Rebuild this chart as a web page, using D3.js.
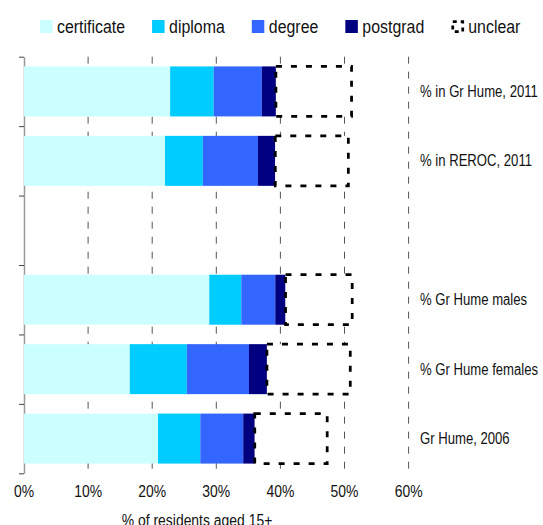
<!DOCTYPE html>
<html>
<head>
<meta charset="utf-8">
<script src="https://cdn.jsdelivr.net/npm/d3@7"></script>
<style>
  body { margin: 0; background: #fff; }
  text { font-family: "Liberation Sans", Arial, sans-serif; fill: #111; }
</style>
</head>
<body>
<div id="chart-area"></div>
<script>
// chart data (percent of residents aged 15+)
var categories = ["% in Gr Hume, 2011", "% in REROC, 2011", "", "% Gr Hume males", "% Gr Hume females", "Gr Hume, 2006"];
var certificate = [22.8, 22.0, 0, 28.9, 16.5, 20.9];
var diploma = [6.8, 5.9, 0, 5.0, 8.9, 6.6];
var degree = [7.5, 8.6, 0, 5.3, 9.7, 6.7];
var postgrad = [2.2, 2.7, 0, 1.6, 2.8, 1.8];
var unclear = [11.8, 11.4, 0, 10.4, 13.0, 11.3];
var seriesNames = ["certificate", "diploma", "degree", "postgrad", "unclear"];
var xTicks = [0, 10, 20, 30, 40, 50, 60];

var colors = {certificate: "#ccffff", diploma: "#00ccff", degree: "#3366ff", postgrad: "#000080", unclear: "#ffffff"};

var width = 543;
var height = 525;
// the source font is a narrow sans, squeeze the regular one to match
var squeeze = 0.82;

var svg = d3.select("#chart-area").append("svg")
.attr("width", width)
.attr("height", height)

function place(x, y, s) {
    return "translate(" + x + "," + y + ") scale(" + (s || squeeze) + ",1)"
}

var rows = categories.map((c, i) => ({
    cat: c,
    certificate: certificate[i],
    diploma: diploma[i],
    degree: degree[i],
    postgrad: postgrad[i],
    unclear: unclear[i]
}))

var x = d3.scaleLinear()
.domain([0, 60])
.range([24, 408.6])

var y = d3.scaleBand()
.domain(categories)
.range([56.7, 473.3])
.paddingInner(0.28)
.paddingOuter(0.14)

// gridlines
svg.append("g")
.selectAll("line")
.data(xTicks.filter(d => d > 0))
.enter().append("line")
.attr("x1", d => x(d))
.attr("x2", d => x(d))
.attr("y1", 56.7)
.attr("y2", 473.3)
.attr("stroke", "#555")
.attr("stroke-width", 1)
.attr("stroke-dasharray", "7,8")

// y axis with ticks at band edges
var yEdges = d3.scaleLinear().domain([0, categories.length]).range([56.7, 473.3])
var yAxisCall = d3.axisLeft(yEdges)
.tickValues(d3.range(categories.length + 1))
.tickFormat("")
.tickSize(5)
.tickSizeOuter(0)

var yAxis = svg.append("g")
.attr("class", "left axis")
.attr("transform", "translate(" + x(0) + ",0)")
.call(yAxisCall)
yAxis.select(".domain").attr("stroke", "#999").attr("stroke-width", 1.5)
yAxis.selectAll(".tick line").attr("stroke", "#444")

// stacked bars
var stack = d3.stack().keys(seriesNames)
var layers = stack(rows)

var groups = svg.selectAll("g.layer")
.data(layers)
.enter().append("g")
.attr("class", "layer")

groups.selectAll("rect")
.data(d => d.filter(p => p.data.cat !== "").map(p => ({key: d.key, p: p})))
.enter().append("rect")
.attr("x", d => x(d.p[0]))
.attr("y", d => y(d.p.data.cat))
.attr("width", d => x(d.p[1]) - x(d.p[0]))
.attr("height", y.bandwidth())
.attr("fill", d => colors[d.key])
.attr("stroke", d => d.key === "unclear" ? "#000" : "none")
.attr("stroke-width", d => d.key === "unclear" ? 2.75 : 0)
.attr("stroke-dasharray", d => d.key === "unclear" ? "6,9" : null)

// category labels on the right
svg.append("g")
.selectAll("text")
.data(categories.filter(c => c !== ""))
.enter().append("text")
.attr("transform", d => place(420, y(d) + y.bandwidth() / 2 + 5.5))
.attr("font-size", "16px")
.text(d => d)

// x tick labels
svg.append("g")
.selectAll("text")
.data(xTicks)
.enter().append("text")
.attr("transform", d => place(x(d), 497))
.attr("font-size", "17px")
.attr("text-anchor", "middle")
.text(d => d + "%")

// X Label
svg.append("text")
.attr("transform", place(197, 525.5))
.attr("font-size", "17px")
.attr("text-anchor", "middle")
.text("% of residents aged 15+")

// legend
var legendSqueeze = 0.86
var legend = svg.append("g")
var lx = 40
seriesNames.forEach(name => {
    var item = legend.append("g").attr("transform", "translate(" + lx + ",0)")
    if (name === "unclear") {
        item.append("rect")
        .attr("x", 1.5).attr("y", 21.5)
        .attr("width", 10).attr("height", 10)
        .attr("fill", "#fff")
        .attr("stroke", "#000")
        .attr("stroke-width", 2.75)
        .attr("stroke-dasharray", "4,4")
    } else {
        item.append("rect")
        .attr("x", 0).attr("y", 20)
        .attr("width", 12.5).attr("height", 13)
        .attr("fill", colors[name])
    }
    var t = item.append("text")
    .attr("transform", place(17, 32.7, legendSqueeze))
    .attr("font-size", "18.5px")
    .text(name)
    lx += 17 + t.node().getComputedTextLength() * legendSqueeze + 27
})
</script>
</body>
</html>
